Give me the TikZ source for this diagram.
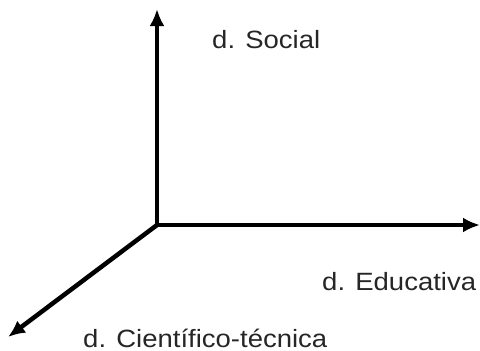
\documentclass[tikz,border=0pt]{standalone}
\usepackage{fontspec}
\setmainfont{Liberation Sans}
\usetikzlibrary{arrows.meta, positioning}

\begin{document}
\begin{tikzpicture}[
  x=1pt, y=-1pt,
  axis/.style ={-{Latex[length=17pt, width=15pt]}, line width=4.5pt, line cap=butt},
  lab/.style  ={anchor=base west, inner sep=0pt, text=black!85,
                font=\fontsize{25}{30}\selectfont, xscale=1.1},
]
\useasboundingbox (0,0) rectangle (480,351);

\coordinate (orig)  at (157,225);
\coordinate (soc)   at (157,9);
\coordinate (edu)   at (480,225);
\coordinate (cien)  at (8,337);

\draw[axis] (orig) -- (soc);
\draw[axis] (orig) -- (edu);
\draw[axis] (orig) -- (cien);

\node[lab] (lsoc)  at (212,48)  {d. Social};
\node[lab] (ledu)  at (322,290) {d. Educativa};
\node[lab] (lcien) at (83,347)  {d. Científico-técnica};

\end{tikzpicture}
\end{document}
